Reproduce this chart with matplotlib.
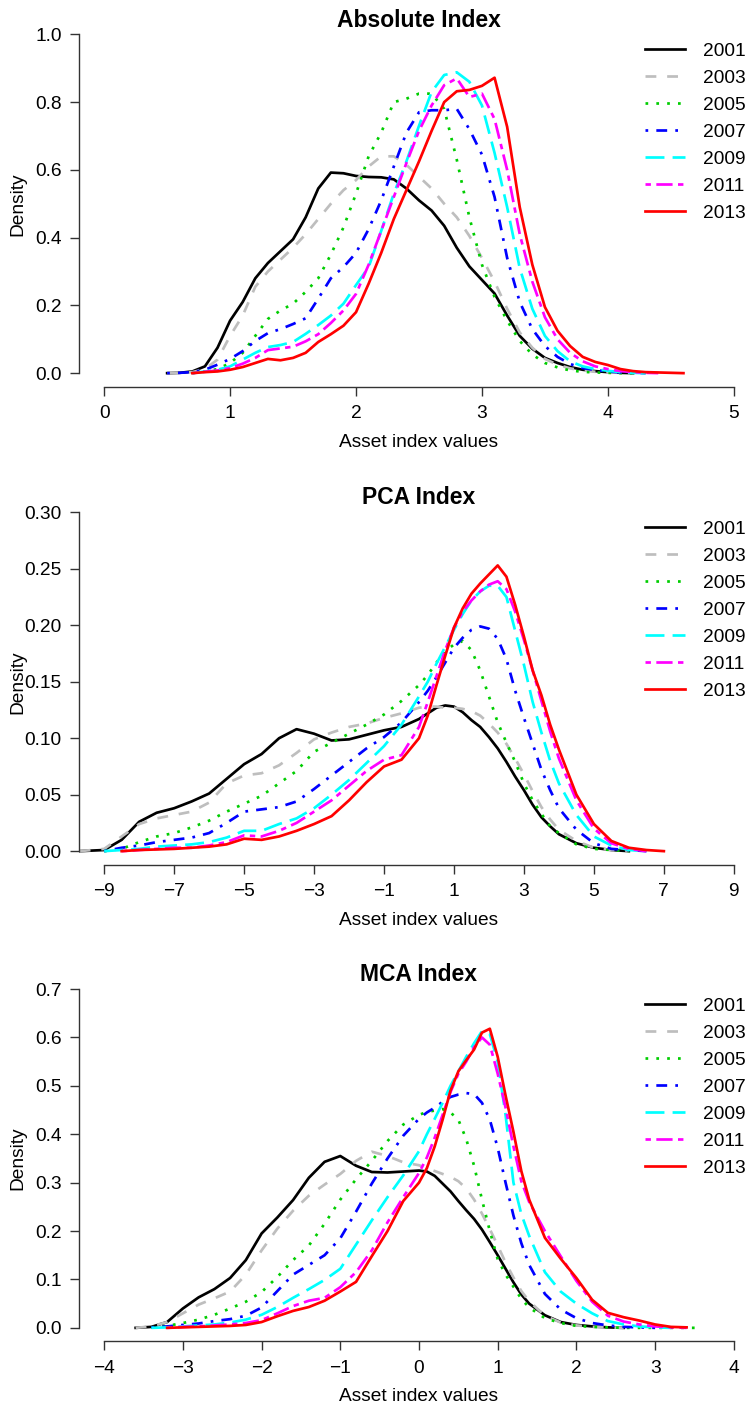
import numpy as np
import matplotlib
matplotlib.use('Agg')
import matplotlib.pyplot as plt

plt.rcParams['font.family'] = ['Liberation Sans', 'DejaVu Sans']

nan = np.nan

years = ['2001', '2003', '2005', '2007', '2009', '2011', '2013']
colors = ['black', '#BEBEBE', '#00CD00', '#0000FF', '#00FFFF', '#FF00FF', '#FF0000']
# R line types 1..6, then 1 again
dash_patterns = [None, (4, 4), (1, 3), (1, 3, 4, 3), (7, 3), (2, 2, 6, 2), None]

# ---- Absolute index, density read at x = 0.5 .. 4.6 (step 0.1)
abs_x = np.round(np.arange(0.5, 4.65, 0.1), 2)
abs_2001 = [0, 0.001, 0.005, 0.02, 0.075, 0.155, 0.21, 0.28, 0.325, 0.36, 0.395, 0.46, 0.545, 0.592,
            0.59, 0.582, 0.579, 0.578, 0.572, 0.545, 0.51, 0.48, 0.435, 0.37, 0.315, 0.275, 0.235,
            0.17, 0.11, 0.072, 0.045, 0.03, 0.018, 0.01, 0.006, 0.003, 0.001, 0, nan, nan, nan, nan]
abs_2003 = [0, 0.001, 0.003, 0.012, 0.04, 0.11, 0.17, 0.255, 0.3, 0.335, 0.37, 0.41, 0.455, 0.5,
            0.54, 0.57, 0.61, 0.64, 0.64, 0.615, 0.58, 0.545, 0.5, 0.46, 0.405, 0.34, 0.27, 0.19,
            0.12, 0.075, 0.042, 0.025, 0.014, 0.008, 0.004, 0.002, 0.001, 0, nan, nan, nan, nan]
abs_2005 = [nan, nan, 0, 0.005, 0.012, 0.03, 0.06, 0.11, 0.16, 0.185, 0.205, 0.24, 0.28, 0.35,
            0.43, 0.53, 0.64, 0.71, 0.8, 0.81, 0.825, 0.825, 0.78, 0.63, 0.46, 0.32, 0.225, 0.155,
            0.095, 0.055, 0.03, 0.017, 0.008, 0.004, 0.002, 0.001, 0, 0, nan, nan, nan, nan]
abs_2007 = [0, 0.001, 0.003, 0.01, 0.025, 0.042, 0.065, 0.095, 0.118, 0.13, 0.145, 0.162, 0.22,
            0.28, 0.313, 0.355, 0.425, 0.51, 0.61, 0.71, 0.77, 0.776, 0.776, 0.78, 0.72, 0.645,
            0.52, 0.34, 0.21, 0.13, 0.08, 0.048, 0.027, 0.015, 0.009, 0.005, 0.002, 0.001, 0,
            nan, nan, nan]
abs_2009 = [nan, nan, 0, 0.005, 0.01, 0.02, 0.04, 0.06, 0.077, 0.083, 0.092, 0.116, 0.142, 0.17,
            0.205, 0.26, 0.313, 0.42, 0.53, 0.625, 0.73, 0.83, 0.88, 0.888, 0.86, 0.79, 0.65,
            0.49, 0.31, 0.19, 0.11, 0.065, 0.035, 0.02, 0.012, 0.007, 0.003, 0.001, 0, nan, nan, nan]
abs_2011 = [nan, nan, 0, 0.004, 0.008, 0.015, 0.028, 0.045, 0.068, 0.073, 0.078, 0.094, 0.115,
            0.148, 0.185, 0.234, 0.32, 0.42, 0.52, 0.62, 0.715, 0.79, 0.85, 0.87, 0.815, 0.825,
            0.75, 0.6, 0.41, 0.27, 0.165, 0.1, 0.06, 0.035, 0.02, 0.012, 0.006, 0.003, 0.001, 0,
            nan, nan]
abs_2013 = [nan, nan, 0, 0.003, 0.005, 0.01, 0.018, 0.03, 0.042, 0.038, 0.045, 0.06, 0.092, 0.115,
            0.14, 0.18, 0.264, 0.355, 0.455, 0.54, 0.625, 0.715, 0.8, 0.832, 0.836, 0.848, 0.872,
            0.727, 0.49, 0.32, 0.195, 0.125, 0.08, 0.048, 0.033, 0.024, 0.012, 0.006, 0.003, 0.002,
            0.001, 0]

# ---- PCA index
pca_x = np.concatenate([[-9.7], np.arange(-9.0, -0.25, 0.5), np.arange(0.0, 4.1, 0.25),
                        np.arange(4.5, 7.1, 0.5)])
pca_2001 = [0, 0.001, 0.01, 0.026, 0.034, 0.038, 0.044, 0.051, 0.064, 0.077, 0.086, 0.1, 0.108,
            0.104, 0.098, 0.099, 0.103, 0.107, 0.11,
            0.117, 0.122, 0.127, 0.129, 0.128, 0.123, 0.116, 0.11, 0.101, 0.091, 0.079, 0.066,
            0.054, 0.041, 0.03, 0.022, 0.015,
            0.007, 0.003, 0.001, 0, nan, nan]
pca_2003 = [0, 0.002, 0.013, 0.024, 0.029, 0.032, 0.035, 0.043, 0.06, 0.067, 0.069, 0.076, 0.087,
            0.099, 0.105, 0.11, 0.113, 0.118, 0.122,
            0.127, 0.128, 0.128, 0.127, 0.127, 0.126, 0.124, 0.12, 0.113, 0.105, 0.095, 0.082,
            0.068, 0.053, 0.039, 0.028, 0.019,
            0.009, 0.003, 0.001, 0, nan, nan]
pca_2005 = [nan, 0, 0.002, 0.008, 0.013, 0.016, 0.021, 0.027, 0.035, 0.042, 0.049, 0.06, 0.071,
            0.088, 0.096, 0.104, 0.112, 0.121, 0.133,
            0.147, 0.156, 0.167, 0.177, 0.183, 0.186, 0.178, 0.16, 0.137, 0.114, 0.096, 0.079,
            0.06, 0.045, 0.033, 0.022, 0.016,
            0.006, 0.002, 0.001, 0, nan, nan]
pca_2007 = [nan, 0, 0.003, 0.005, 0.008, 0.01, 0.012, 0.016, 0.025, 0.035, 0.037, 0.039, 0.044,
            0.055, 0.067, 0.079, 0.091, 0.101, 0.114,
            0.132, 0.142, 0.154, 0.167, 0.18, 0.189, 0.196, 0.199, 0.197, 0.188, 0.17, 0.142,
            0.118, 0.095, 0.072, 0.054, 0.038,
            0.019, 0.007, 0.002, 0.001, 0, nan]
pca_2009 = [nan, 0, 0.001, 0.002, 0.004, 0.005, 0.006, 0.008, 0.012, 0.018, 0.018, 0.024, 0.029,
            0.038, 0.05, 0.063, 0.078, 0.093, 0.112,
            0.137, 0.15, 0.166, 0.181, 0.196, 0.21, 0.222, 0.23, 0.235, 0.235, 0.225, 0.195,
            0.165, 0.132, 0.105, 0.08, 0.06,
            0.032, 0.013, 0.005, 0.001, 0, nan]
pca_2011 = [nan, nan, 0, 0.001, 0.002, 0.003, 0.003, 0.005, 0.008, 0.014, 0.013, 0.018, 0.025,
            0.035, 0.045, 0.058, 0.071, 0.081, 0.085,
            0.11, 0.132, 0.155, 0.178, 0.198, 0.212, 0.222, 0.23, 0.236, 0.239, 0.232, 0.212,
            0.187, 0.16, 0.133, 0.106, 0.082,
            0.045, 0.02, 0.007, 0.002, 0, nan]
pca_2013 = [nan, nan, 0, 0.001, 0.0015, 0.002, 0.003, 0.004, 0.006, 0.011, 0.01, 0.013, 0.018,
            0.024, 0.031, 0.045, 0.061, 0.075, 0.081,
            0.1, 0.12, 0.147, 0.173, 0.198, 0.215, 0.228, 0.237, 0.245, 0.253, 0.243, 0.218,
            0.19, 0.16, 0.138, 0.112, 0.09,
            0.05, 0.024, 0.009, 0.003, 0.001, 0]

# ---- MCA index
mca_x = np.concatenate([np.arange(-3.6, -0.15, 0.2), np.arange(0.0, 1.45, 0.1),
                        np.arange(1.6, 3.65, 0.2)])
mca_2001 = [0, 0.002, 0.012, 0.04, 0.063, 0.08, 0.103, 0.14, 0.195, 0.228, 0.264, 0.31, 0.343,
            0.355, 0.335, 0.322, 0.321, 0.323,
            0.325, 0.323, 0.314, 0.298, 0.282, 0.262, 0.243, 0.225, 0.203, 0.177, 0.15, 0.122,
            0.094, 0.069, 0.05,
            0.026, 0.012, 0.006, 0.003, 0.001, 0, nan, nan, nan, nan, nan]
mca_2003 = [0, 0.003, 0.012, 0.03, 0.048, 0.061, 0.075, 0.11, 0.16, 0.205, 0.242, 0.273, 0.296,
            0.318, 0.345, 0.364, 0.355, 0.342,
            0.336, 0.33, 0.324, 0.318, 0.312, 0.303, 0.288, 0.265, 0.236, 0.204, 0.17, 0.135,
            0.104, 0.076, 0.055,
            0.025, 0.011, 0.005, 0.002, 0.001, 0, nan, nan, nan, nan, nan]
mca_2005 = [nan, 0.001, 0.004, 0.01, 0.017, 0.027, 0.04, 0.054, 0.074, 0.105, 0.14, 0.17, 0.215,
            0.265, 0.307, 0.345, 0.386, 0.42,
            0.44, 0.446, 0.449, 0.452, 0.445, 0.43, 0.39, 0.335, 0.265, 0.2, 0.142, 0.11,
            0.085, 0.06, 0.042,
            0.02, 0.01, 0.004, 0.002, 0.001, 0, 0, 0, 0, 0, 0]
mca_2007 = [nan, 0.001, 0.003, 0.006, 0.009, 0.014, 0.018, 0.025, 0.042, 0.076, 0.11, 0.13, 0.15,
            0.185, 0.24, 0.298, 0.35, 0.397,
            0.432, 0.445, 0.455, 0.467, 0.477, 0.482, 0.485, 0.483, 0.465, 0.43, 0.372, 0.3,
            0.232, 0.175, 0.13,
            0.07, 0.038, 0.02, 0.01, 0.005, 0.002, 0.001, 0, nan, nan, nan]
mca_2009 = [nan, 0, 0.001, 0.003, 0.005, 0.007, 0.011, 0.017, 0.027, 0.043, 0.062, 0.08, 0.099,
            0.122, 0.172, 0.222, 0.27, 0.315,
            0.365, 0.4, 0.432, 0.465, 0.5, 0.53, 0.56, 0.588, 0.613, 0.607, 0.55, 0.44,
            0.3, 0.235, 0.19,
            0.115, 0.075, 0.05, 0.03, 0.014, 0.007, 0.003, 0.001, 0, nan, nan]
mca_2011 = [nan, nan, 0, 0.002, 0.003, 0.005, 0.007, 0.01, 0.016, 0.03, 0.045, 0.056, 0.062,
            0.084, 0.115, 0.16, 0.218, 0.27,
            0.32, 0.352, 0.393, 0.44, 0.487, 0.525, 0.55, 0.58, 0.6, 0.585, 0.525, 0.455,
            0.375, 0.303, 0.26,
            0.2, 0.148, 0.097, 0.054, 0.025, 0.013, 0.007, 0.003, 0.001, 0, nan]
mca_2013 = [nan, nan, 0, 0.001, 0.002, 0.003, 0.004, 0.006, 0.012, 0.024, 0.035, 0.043, 0.056,
            0.075, 0.095, 0.148, 0.2, 0.262,
            0.3, 0.33, 0.375, 0.43, 0.49, 0.53, 0.553, 0.575, 0.61, 0.618, 0.56, 0.48,
            0.405, 0.324, 0.265,
            0.186, 0.143, 0.103, 0.058, 0.031, 0.022, 0.015, 0.007, 0.002, 0.001, nan]

panels = [
    ('Absolute Index', abs_x,
     [abs_2001, abs_2003, abs_2005, abs_2007, abs_2009, abs_2011, abs_2013],
     [0, 1, 2, 3, 4, 5], np.arange(0, 1.01, 0.2), '%.1f'),
    ('PCA Index', pca_x,
     [pca_2001, pca_2003, pca_2005, pca_2007, pca_2009, pca_2011, pca_2013],
     list(range(-9, 10, 2)), np.arange(0, 0.301, 0.05), '%.2f'),
    ('MCA Index', mca_x,
     [mca_2001, mca_2003, mca_2005, mca_2007, mca_2009, mca_2011, mca_2013],
     list(range(-4, 5)), np.arange(0, 0.701, 0.1), '%.1f'),
]

W, H = 748, 1406
fig = plt.figure(figsize=(W / 100, H / 100), dpi=100, facecolor='white')

ax_left, ax_w, ax_h = 79, 680, 365.9
ax_tops = [20.8, 498.8, 975.5]
fs = 13.8
axis_col = '#333333'

for (title, xs, series, xticks, yticks, yfmt), top in zip(panels, ax_tops):
    ax = fig.add_axes([ax_left / W, 1 - (top + ax_h) / H, ax_w / W, ax_h / H])

    for ys, yr, col, dp in zip(series, years, colors, dash_patterns):
        if dp is None:
            ax.plot(xs, ys, color=col, lw=1.95, label=yr)
        else:
            ax.plot(xs, ys, color=col, lw=1.95, ls=(0, dp), label=yr)

    # R style: 4% padding around the axis range
    xr = xticks[-1] - xticks[0]
    ax.set_xlim(xticks[0] - 0.04 * xr, xticks[-1] + 0.04 * xr)
    yr_ = yticks[-1] - yticks[0]
    ax.set_ylim(-0.04 * yr_, yticks[-1] + 0.04 * yr_)

    ax.set_xticks(xticks)
    ax.set_xticklabels([str(t).replace('-', '\u2212') for t in xticks])
    ax.set_yticks(yticks)
    ax.set_yticklabels([yfmt % t for t in yticks])

    for s in ['top', 'right']:
        ax.spines[s].set_visible(False)
    ax.spines['left'].set_bounds(yticks[0], yticks[-1])
    ax.spines['bottom'].set_bounds(xticks[0], xticks[-1])
    for s in ['left', 'bottom']:
        ax.spines[s].set_color(axis_col)
        ax.spines[s].set_linewidth(1.0)
    ax.tick_params(direction='out', length=6.5, width=1.0, color=axis_col, labelsize=fs)
    ax.tick_params(axis='x', pad=7)
    ax.tick_params(axis='y', pad=6)

    ax.text(0.5, 1 - 5.7 / ax_h, title, transform=ax.transAxes, ha='center',
            va='baseline', fontsize=16.5, fontweight='bold')
    ax.text(0.5, -59.9 / ax_h, 'Asset index values', transform=ax.transAxes,
            ha='center', va='baseline', fontsize=fs)
    ax.text((22 - ax_left) / ax_w, 0.5, 'Density', transform=ax.transAxes, rotation=90,
            rotation_mode='anchor', ha='center', va='baseline', fontsize=fs)

    ax.legend(loc='upper left', bbox_to_anchor=((645 - ax_left) / ax_w, 1 - 21.6 / ax_h),
              frameon=False, fontsize=fs, handlelength=2.08, handletextpad=0.94,
              borderpad=0, borderaxespad=0, labelspacing=0.5)

fig.savefig('out.png', dpi=100, facecolor='white')
